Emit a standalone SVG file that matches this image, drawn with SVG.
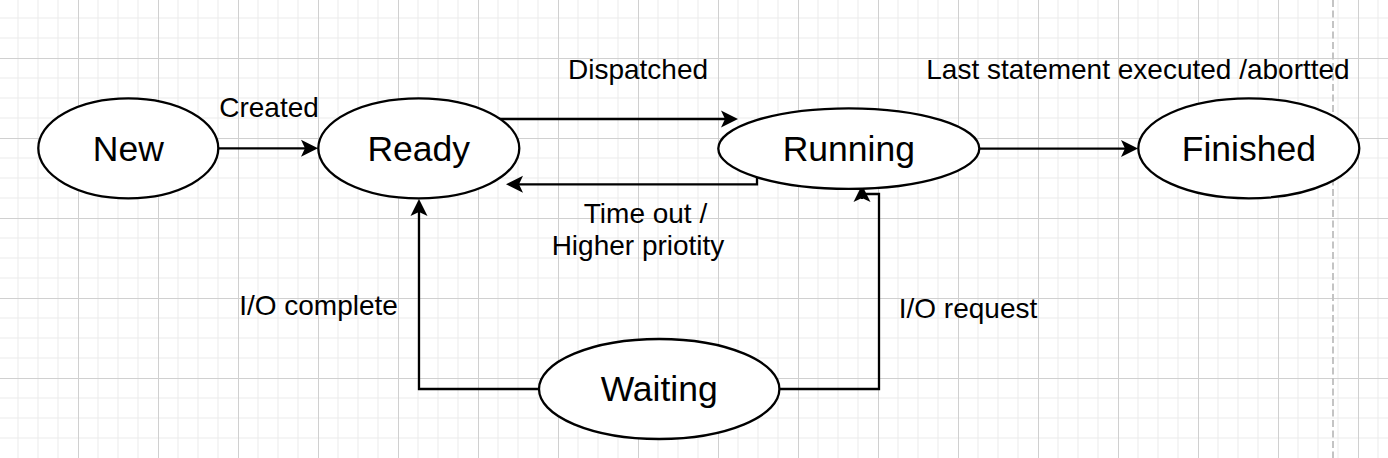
<svg xmlns="http://www.w3.org/2000/svg" width="1388" height="458" viewBox="0 0 1388 458">
<style>
.node ellipse{fill:#fff;stroke:#000;stroke-width:2.3}
.node text{font-family:"Liberation Sans",Arial,Helvetica,sans-serif;font-size:35.5px;text-anchor:middle;fill:#000}
.edge{fill:none;stroke:#000;stroke-width:2.3}
.lbl{font-family:"Liberation Sans",Arial,Helvetica,sans-serif;font-size:28px;text-anchor:middle;fill:#000}
.minor{stroke:#ebebeb;stroke-width:1}
.major{stroke:#d0d0d0;stroke-width:1}
</style>
<defs>
<pattern id="grid" patternUnits="userSpaceOnUse" x="0" y="0" width="80" height="80">
<path class="minor" d="M18,0V80M38,0V80M58,0V80M0,18H80M0,38H80M0,78H80"/>
<path class="major" d="M78.5,0V80M0,58.5H80"/>
</pattern>
<marker id="arr" markerUnits="userSpaceOnUse" markerWidth="18" markerHeight="18" refX="4" refY="8.5" orient="auto" viewBox="0 0 18 17">
<path d="M0,0 L17,8.5 L0,17 L4,8.5 z" fill="#000"/>
</marker>
</defs>
<rect width="1388" height="458" fill="#fff"/>
<rect width="1388" height="458" fill="url(#grid)"/>
<line x1="1333" y1="0" x2="1333" y2="458" stroke="#c4c4c4" stroke-width="2" stroke-dasharray="7,3.5"/>
<g id="connectors">
<path class="edge" d="M218.3,148.3 H305" marker-end="url(#arr)"/>
<path class="edge" d="M489,112.5 V119 H725" marker-end="url(#arr)"/>
<path class="edge" d="M757,175 V184.3 H519" marker-end="url(#arr)"/>
<path class="edge" d="M539,389 H419 V212" marker-end="url(#arr)"/>
<path class="edge" d="M779.3,389 H879 V194 H862 M862,199 V198" marker-end="url(#arr)"/>
<path class="edge" d="M979.3,148.6 H1125" marker-end="url(#arr)"/>
<text class="lbl" x="269" y="117">Created</text>
<text class="lbl" x="638" y="79">Dispatched</text>
<text class="lbl" x="1138" y="79">Last statement executed /abortted</text>
<text class="lbl" x="645.5" y="223">Time out /</text>
<text class="lbl" x="638" y="255">Higher priotity</text>
<text class="lbl" x="318.5" y="315">I/O complete</text>
<text class="lbl" x="968" y="318">I/O request</text>
</g>
<g id="node-new" class="node"><ellipse cx="128.3" cy="148.3" rx="90" ry="50"/><text x="128.3" y="160.7">New</text></g>
<g id="node-ready" class="node"><ellipse cx="418.8" cy="148.3" rx="100.5" ry="50"/><text x="418.8" y="160.7">Ready</text></g>
<g id="node-running" class="node"><ellipse cx="848.8" cy="148.6" rx="130.5" ry="40.3"/><text x="848.8" y="161">Running</text></g>
<g id="node-finished" class="node"><ellipse cx="1248.8" cy="148.3" rx="110.5" ry="50"/><text x="1248.8" y="160.7">Finished</text></g>
<g id="node-waiting" class="node"><ellipse cx="659.2" cy="389" rx="120.2" ry="50"/><text x="659.2" y="401.4">Waiting</text></g>
</svg>
